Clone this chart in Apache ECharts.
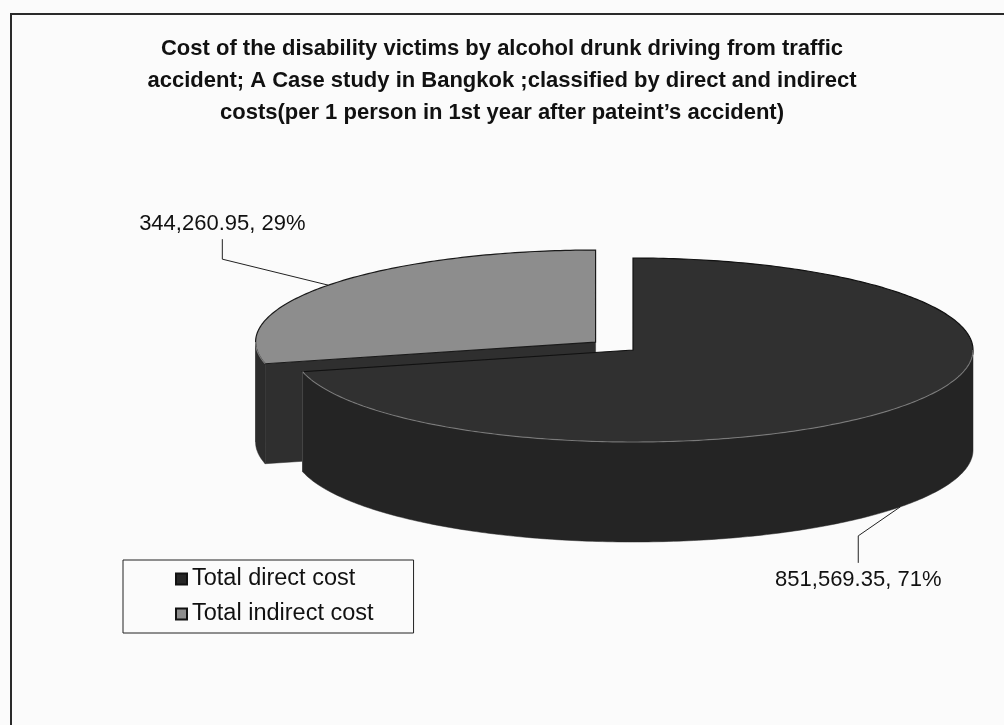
<!DOCTYPE html>
<html>
<head>
<meta charset="utf-8">
<script src="https://cdn.jsdelivr.net/npm/echarts@6/dist/echarts.min.js"></script>
<style>
html,body{margin:0;padding:0;background:#fbfbfb;}
#main{width:1004px;height:725px;}
</style>
</head>
<body>
<div id="main"></div>
<script>
// ---- data ----
const categories = ['Total direct cost', 'Total indirect cost'];
const values = [851569.35, 344260.95];
const titleLines = [
  'Cost of the disability victims by alcohol drunk driving from traffic',
  'accident; A Case study in Bangkok ;classified by direct and indirect',
  'costs(per 1 person in 1st year after pateint\u2019s accident)'
];

// ---- layout / style ----
const geo = {cx: 633, cy: 350, rx: 340, ry: 92, depth: 100};
const explode = [0, 0.14];
const colors = [
  {top: '#303030', wall: '#242424', side: '#282828', edge: '#111', legend: '#262626'},
  {top: '#8d8d8d', wall: '#2c2c2c', side: '#2f2f2f', edge: '#1a1a1a', legend: '#8d8d8d'}
];
const labelLayout = [
  {at: 'bottom', dx: -42, dy: 29, dv: 27},
  {at: 'top', dx: -106, dy: -26, dv: -20}
];
const FONT = 'Liberation Sans, Arial, sans-serif';

const total = values.reduce((a, b) => a + b, 0);
const starts = [], ends = [];
let acc = 0;
values.forEach(v => { starts.push(acc / total * 2 * Math.PI); acc += v; ends.push(acc / total * 2 * Math.PI); });

function pt(c, a, dz) { return [c[0] + geo.rx * Math.sin(a), c[1] - geo.ry * Math.cos(a) + (dz || 0)]; }
function arc(c, a0, a1, dz) {
  const n = Math.max(2, Math.ceil(Math.abs(a1 - a0) / 0.015));
  const out = [];
  for (let k = 0; k <= n; k++) out.push(pt(c, a0 + (a1 - a0) * k / n, dz));
  return out;
}
function sliceCenter(i) {
  const mid = (starts[i] + ends[i]) / 2, e = explode[i];
  return [geo.cx + e * geo.rx * Math.sin(mid), geo.cy - e * geo.ry * Math.cos(mid)];
}
function fmt(v) {
  return v.toLocaleString('en-US', {minimumFractionDigits: 2, maximumFractionDigits: 2}) + ', ' + Math.round(v / total * 100) + '%';
}

function makeRender(i) {
  return function (params, api) {
    const v = api.value(0);
    const c = sliceCenter(i), a0 = starts[i], a1 = ends[i], d = geo.depth, col = colors[i];
    const children = [];
    const c2 = [c[0], c[1] + d];
    if (Math.sin(a0) < -1e-6) {
      const p = pt(c, a0), q = pt(c, a0, d);
      children.push({type: 'polygon', shape: {points: [c, p, q, c2]}, style: {fill: col.side, stroke: col.side, lineWidth: 0.5}});
    }
    if (Math.sin(a1) > 1e-6) {
      const p = pt(c, a1), q = pt(c, a1, d);
      children.push({type: 'polygon', shape: {points: [c, p, q, c2]}, style: {fill: col.side, stroke: col.side, lineWidth: 0.5}});
    }
    const ws = Math.max(a0, Math.PI / 2), we = Math.min(a1, 3 * Math.PI / 2);
    if (we > ws) {
      const topA = arc(c, ws, we, 0), botA = arc(c, we, ws, d);
      children.push({type: 'polygon', shape: {points: topA.concat(botA)}, style: {fill: col.wall, stroke: col.wall, lineWidth: 0.5}});
      const e = topA[topA.length - 1];
      children.push({type: 'line', shape: {x1: e[0], y1: e[1], x2: e[0], y2: e[1] + d}, style: {stroke: '#474747', lineWidth: 1}});
    }
    const topPts = [c].concat(arc(c, a0, a1, 0));
    children.push({type: 'polygon', shape: {points: topPts}, style: {fill: col.top, stroke: col.edge, lineWidth: 1.2}});
    if (we > ws) {
      children.push({type: 'polyline', shape: {points: arc(c, ws, we, 0)}, style: {stroke: '#7a7a7a', lineWidth: 1.2, fill: null}});
    }
    const L = labelLayout[i], mid = (a0 + a1) / 2;
    const anc = pt(c, mid, L.at === 'bottom' ? d : 0);
    const k1 = [anc[0] + L.dx, anc[1] + L.dy], k2 = [k1[0], k1[1] + L.dv];
    children.push({type: 'polyline', shape: {points: [anc, k1, k2]}, style: {stroke: '#222', lineWidth: 1, fill: null}});
    children.push({type: 'text', style: {
      text: fmt(v), x: k2[0], y: k2[1] + (L.dv > 0 ? 6 : -4),
      align: 'center', verticalAlign: L.dv > 0 ? 'top' : 'bottom',
      font: '22px ' + FONT, fill: '#111'
    }});
    return {type: 'group', children: children};
  };
}

const series = [1, 0].map(i => ({
  type: 'custom',
  name: categories[i],
  coordinateSystem: 'none',
  z: i === 0 ? 3 : 2,
  itemStyle: {color: colors[i].legend, borderColor: '#111', borderWidth: 1},
  data: [values[i]],
  renderItem: makeRender(i)
}));

const chart = echarts.init(document.getElementById('main'), null, {renderer: 'canvas'});
chart.setOption({
  backgroundColor: '#fbfbfb',
  animation: false,
  title: {
    text: titleLines.join('\n'),
    left: 'center', top: 28,
    textStyle: {fontFamily: FONT, fontWeight: 'bold', fontSize: 22, lineHeight: 32, color: '#111'}
  },
  legend: {
    orient: 'vertical', left: 123, top: 560,
    data: categories,
    icon: 'rect', itemWidth: 11, itemHeight: 11, itemGap: 11,
    textStyle: {fontFamily: FONT, fontSize: 23.5, color: '#111'},
    borderColor: '#222', borderWidth: 1, padding: [7, 40, 7, 52]
  },
  graphic: [{
    type: 'polyline', silent: true,
    shape: {points: [[11, 725], [11, 14], [1004, 14]]},
    style: {stroke: '#2a2a2a', lineWidth: 2, fill: null}
  }],
  series: series
});
</script>
</body>
</html>
